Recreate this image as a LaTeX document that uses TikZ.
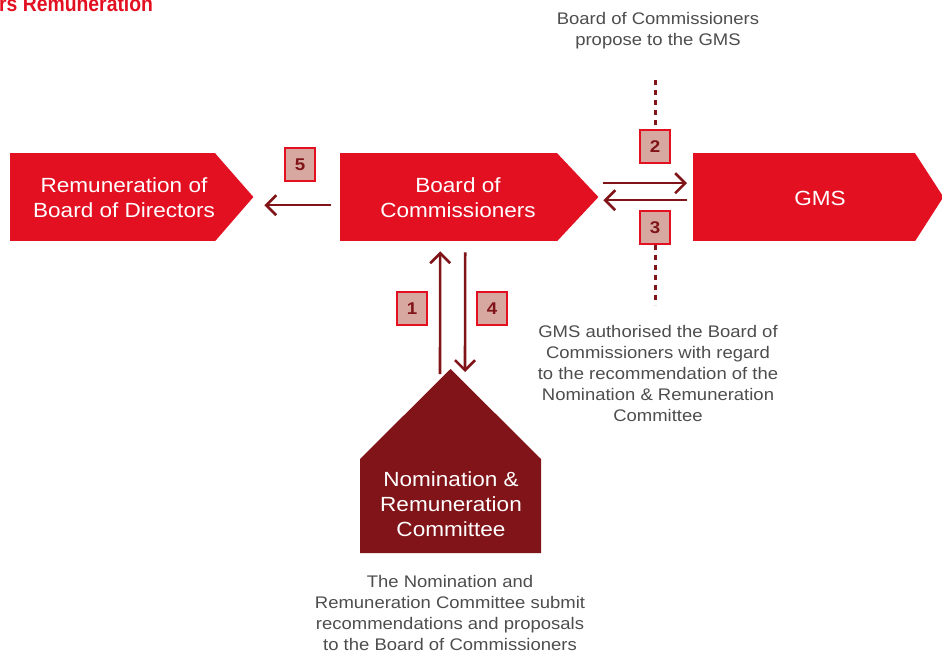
\documentclass[tikz,border=0pt]{standalone}
\usepackage{fontspec}
\setmainfont{Liberation Sans}[FakeStretch=1.1]
\newfontfamily\headfont{Liberation Sans}[FakeStretch=0.88]
\usepackage{tikz}
\usetikzlibrary{arrows.meta, positioning, calc}
\definecolor{gcgred}{RGB}{227, 16, 34}
\definecolor{gcgmaroon}{RGB}{128, 20, 24}
\definecolor{gcgpink}{RGB}{214, 168, 160}
\definecolor{gcggray}{RGB}{77, 77, 77}
\tikzset{
	redbox/.style={fill=gcgred, inner sep=0pt, minimum height=88pt},
	boxtext/.style={text=white, align=center, inner sep=0pt, font=\fontsize{20.5}{24.5}\selectfont},
	note/.style={text=gcggray, align=center, inner sep=0pt, font=\fontsize{16.8}{21}\selectfont},
	stepno/.style={draw=gcgred, line width=2pt, fill=gcgpink, minimum width=30pt, minimum height=33pt, inner sep=0pt, text=gcgmaroon, font=\bfseries\fontsize{17}{17}\selectfont},
	flow/.style={draw=gcgmaroon, line width=2.6pt, -{Straight Barb[length=10pt, width=20pt, line width=2.6pt]}},
	guide/.style={draw=gcgmaroon, line width=3pt, dash pattern=on 5pt off 5pt}
}

\begin{document}
\begin{tikzpicture}[x=1pt, y=-1pt]
		\useasboundingbox (0,0) rectangle (942,655);
		\node[anchor=base west, inner sep=0pt, text=gcgred, font=\headfont\bfseries\fontsize{22}{22}\selectfont] (title) at (-1,12) {rs Remuneration};
		% arrow shaped boxes
		\node[redbox, minimum width=205pt, anchor=north west] (rbd) at (10,153) {};
		\fill[gcgred] ([xshift=-0.5pt]rbd.north east) -- ++(38.5,44) -- ([xshift=-0.5pt]rbd.south east) -- cycle;
		\node[redbox, minimum width=217pt, anchor=north west] (boc) at (340,153) {};
		\fill[gcgred] ([xshift=-0.5pt]boc.north east) -- ++(41.5,44) -- ([xshift=-0.5pt]boc.south east) -- cycle;
		\node[redbox, minimum width=222pt, anchor=north west] (gms) at (693,153) {};
		\fill[gcgred] ([xshift=-0.5pt]gms.north east) -- ++(28.5,44) -- ([xshift=-0.5pt]gms.south east) -- cycle;
		\node[boxtext] (rbdtext) at (124,197.5) {Remuneration of\\Board of Directors};
		\node[boxtext] (boctext) at (458,197.5) {Board of\\Commissioners};
		\node[boxtext] (gmstext) at (820,198) {GMS};
		% committee
		\coordinate (apex) at (450.5,369);
		\fill[gcgmaroon] (apex) -- (541,459) -- (541,553) -- (360,553) -- (360,459) -- cycle;
		\node[boxtext, font=\fontsize{20.5}{25}\selectfont] (nrc) at (451,504.5) {Nomination \&\\Remuneration\\Committee};
		% notes
		\node[note] (propose) at (658,31) {Board of Commissioners\\propose to the GMS};
		\node[note] (authorise) at (658,373) {GMS authorised the Board of\\Commissioners with regard\\to the recommendation of the\\Nomination \& Remuneration\\Committee};
		\node[note] (submit) at (450,612.5) {The Nomination and\\Remuneration Committee submit\\recommendations and proposals\\to the Board of Commissioners};
		% connectors
		\draw[flow] ($(boc.west)+(-9,8)$) -- ($(rbd.east)+(49,8)$);
		\draw[flow] ($(boc.east)+(46,-14)$) -- ($(gms.west)+(-6,-14)$);
		\draw[flow] ($(gms.west)+(-6,3)$) -- ($(boc.east)+(46,3)$);
		\draw[flow] ($(apex)+(-10.5,5)$) -- ($(boc.south)+(-8.5,10)$);
		\draw[flow] ($(boc.south)+(16.5,11)$) -- ($(apex)+(14.5,3)$);
		% step numbers
		\node[stepno] (s1) at (412,308.5) {1};
		\node[stepno] (s2) at (655,147) {2};
		\node[stepno] (s3) at (655,227.5) {3};
		\node[stepno] (s4) at (492,308.5) {4};
		\node[stepno] (s5) at (300,164.5) {5};
		\draw[guide] (655,80) -- (s2.north);
		\draw[guide] (s3.south) -- (655,305);
		\end{tikzpicture}
\end{document}
